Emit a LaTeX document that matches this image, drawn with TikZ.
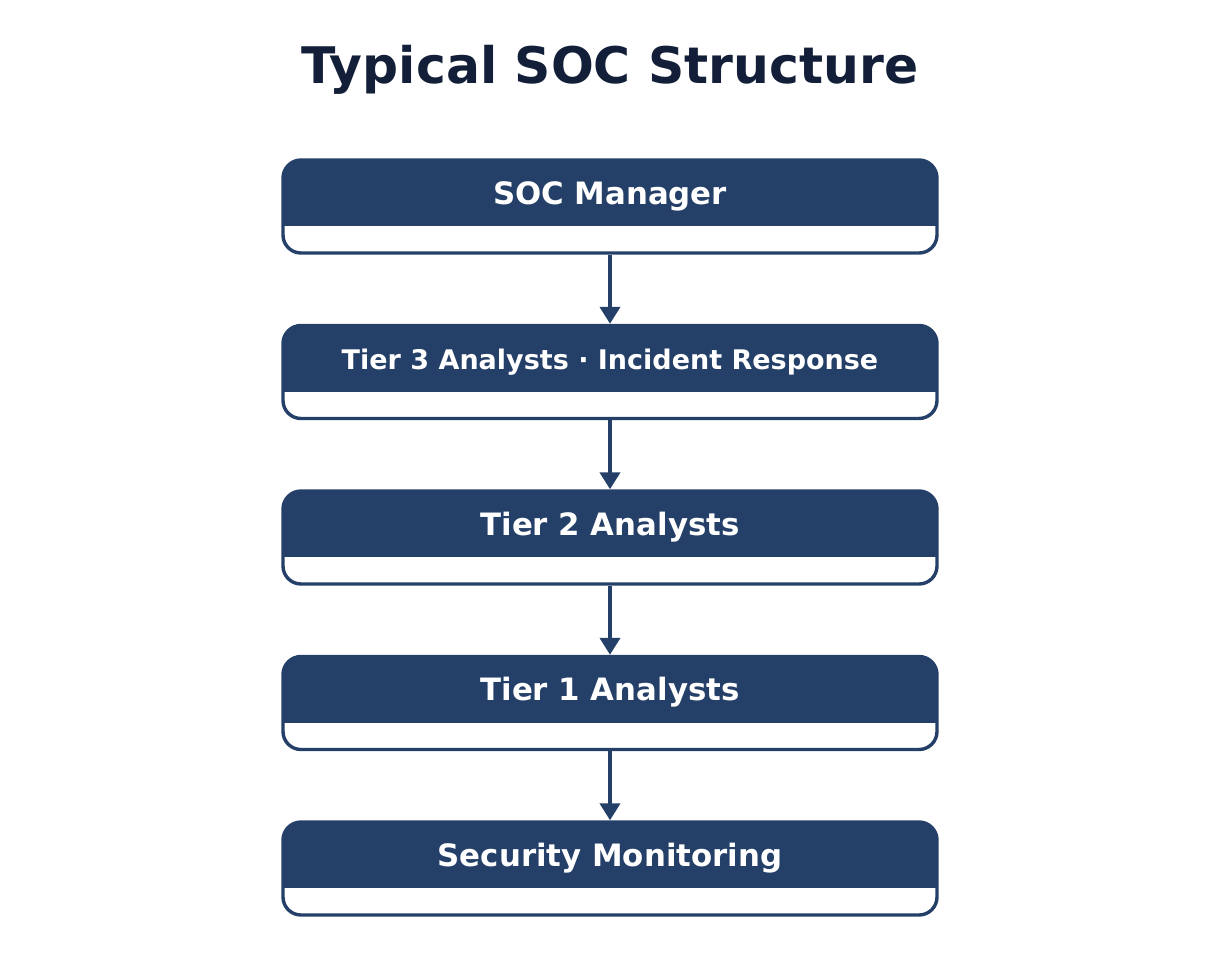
\documentclass[tikz,border=0pt]{standalone}
\usepackage{fontspec}
\setmainfont{DejaVu Sans}
\usetikzlibrary{arrows.meta}

\definecolor{socblue}{HTML}{254068}
\definecolor{socdark}{HTML}{131F38}

\tikzset{
  tierbox/.style={draw=socblue, line width=1.7pt, fill=white, rounded corners=9pt,
    minimum width=327pt, minimum height=46.5pt, inner sep=0pt,
    path picture={\fill[socblue, sharp corners] (path picture bounding box.north west) rectangle ([yshift=-33pt]path picture bounding box.north east);}},
  tierlabel/.style={anchor=base, text=white, font=\bfseries\fontsize{15.4}{18}\selectfont},
  flow/.style={socblue, line width=2pt, -{Triangle[length=8.5pt, width=10pt]}}
}

\begin{document}
\begin{tikzpicture} [x=0.5pt, y=-0.5pt]

\useasboundingbox (0,0) rectangle (1232,980);
\node[anchor=base, text=socdark, font=\bfseries\fontsize{25.2}{30}\selectfont] (title) at (610,83) {Typical SOC Structure};

\node[tierbox] (mgr) at (610,206.5) {};
\node[tierbox] (t3)  at (610,372) {};
\node[tierbox] (t2)  at (610,537.5) {};
\node[tierbox] (t1)  at (610,703) {};
\node[tierbox] (mon) at (610,868.5) {};

\node[tierlabel] (mgr-t) at (610,204) {SOC Manager};
\node[tierlabel, font=\bfseries\fontsize{13.5}{16}\selectfont] (t3-t) at (610,369.5) {Tier 3 Analysts · Incident Response};
\node[tierlabel] (t2-t) at (610,535) {Tier 2 Analysts};
\node[tierlabel] (t1-t) at (610,700.5) {Tier 1 Analysts};
\node[tierlabel] (mon-t) at (610,866) {Security Monitoring};

\foreach \a/\b in {mgr/t3, t3/t2, t2/t1, t1/mon}
  \draw[flow] (\a.south) -- (\b.north);

\end{tikzpicture}
\end{document}
